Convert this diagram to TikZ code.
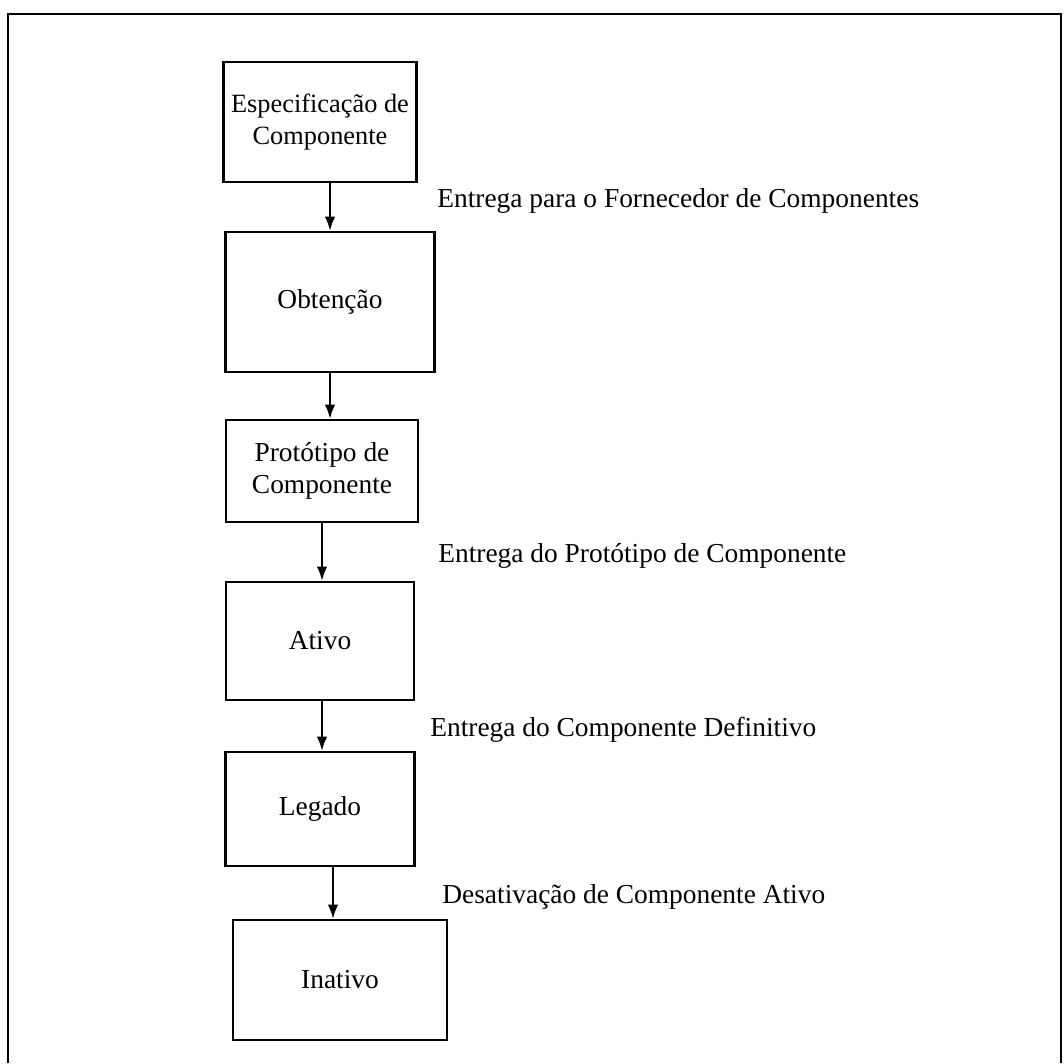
\documentclass[tikz,border=0pt]{standalone}
\usepackage{fontspec}
\setmainfont{Liberation Serif}
\usepackage{tikz}
\usetikzlibrary{arrows.meta,shapes,positioning}

\tikzset{
  fase/.style={draw, line width=1.5pt, align=center, inner sep=0pt},
  passo/.style={anchor=west, inner sep=0pt},
  seta/.style={-{Latex[length=8pt,width=6pt]}, line width=1.1pt}
}

\begin{document}
\begin{tikzpicture}[x=0.02cm, y=-0.02cm, font=\fontsize{15.6}{18.5}\selectfont]
\useasboundingbox (0,0) rectangle (1064,1063);

% moldura
\draw [line width=1.2pt] (8,1063) -- (8,14) -- (1061,14) -- (1061,1063);

% fases do componente
\node [fase, minimum width=3.86cm, minimum height=2.4cm, font=\fontsize{15}{18.5}\selectfont] (espec) at (320,122) {Especifica\c{c}\~ao de\\Componente};
\node [fase, minimum width=4.18cm, minimum height=2.8cm] (obt) at (330,302) {Obten\c{c}\~ao};
\node [fase, minimum width=3.84cm, minimum height=2.04cm] (proto) at (322,471) {Prot\'otipo de\\Componente};
\node [fase, minimum width=3.76cm, minimum height=2.36cm] (ativo) at (320,641) {Ativo};
\node [fase, minimum width=3.78cm, minimum height=2.28cm] (legado) at (320,809) {Legado};
\node [fase, minimum width=4.28cm, minimum height=2.4cm] (inativo) at (340,980) {Inativo};

% transicoes
\draw [seta] (espec.south -| 330,0) -- (obt.north -| 330,0);
\draw [seta] (obt.south -| 330,0) -- (proto.north -| 330,0);
\draw [seta] (proto.south -| 322,0) -- (ativo.north -| 322,0);
\draw [seta] (ativo.south -| 322,0) -- (legado.north -| 322,0);
\draw [seta] (legado.south -| 333,0) -- (inativo.north -| 333,0);

\node [passo] (t1) at (437,201) {Entrega para o Fornecedor de Componentes};
\node [passo] (t3) at (438,556) {Entrega do Prot\'otipo de Componente};
\node [passo] (t4) at (430,730) {Entrega do Componente Definitivo};
\node [passo] (t5) at (442,897) {Desativa\c{c}\~ao de Componente Ativo};
\end{tikzpicture}
\end{document}
